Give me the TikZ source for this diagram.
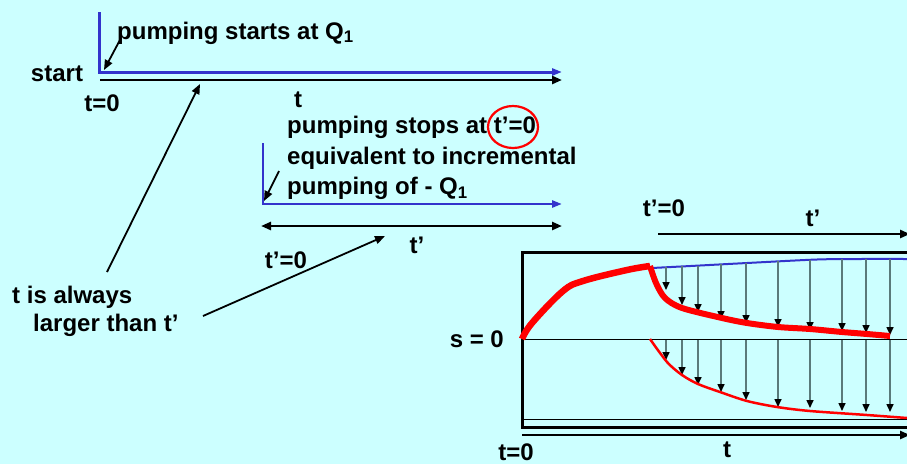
\documentclass[tikz,border=0pt]{standalone}
\usepackage{fontspec}
\setmainfont{Liberation Sans}
\usetikzlibrary{arrows.meta,positioning}
\definecolor{bgcyan}{RGB}{204,255,255}
\definecolor{axisblue}{RGB}{51,51,204}
\definecolor{dropgray}{RGB}{90,122,122}

\begin{document}
\begin{tikzpicture}[x=1pt,y=-1pt,
  lbl/.style={font=\fontsize{24}{30.5}\selectfont\bfseries, inner sep=0pt},
  axis/.style={line width=2.5pt, -{Triangle[length=10pt,width=8pt]}},
  blueaxis/.style={axisblue, line width=3pt, -{Triangle[length=10pt,width=7pt]}},
  pointer/.style={line width=1.8pt, -{Triangle[length=10pt,width=8pt]}},
  drop/.style={dropgray, line width=1.5pt, -{Triangle[length=8pt,width=7pt,color=black]}}]
  \fill[bgcyan] (0,0) rectangle (907,464);
  \useasboundingbox (0,0) rectangle (907,464);

  % pumping starts
  \coordinate (c1) at (99,72);
  \draw[blueaxis] (99,12) -- (c1) -- (562,72);
  \draw[axis] (100,80) -- (562,80);
  \node[lbl] (start) at (57,74) {start};
  \node[lbl] (t0) at (102,103) {t=0};
  \node[lbl] (t) at (298,100) {t};
  \node[lbl, anchor=west] (qstart) at (117,33) {pumping starts at Q\textsubscript{1}};
  \coordinate (qtail) at (121,38);
  \coordinate (qhead) at (104,70);
  \draw[pointer] (qtail) -- (qhead);

  % pumping stops
  \coordinate (c2) at (263,204);
  \draw[blueaxis, line width=2.5pt] (263,143) -- (c2) -- (562,204);
  \draw[axis, {Triangle[length=10pt,width=8pt]}-{Triangle[length=10pt,width=8pt]}]
    (261,226) -- (562,226);
  \node[lbl, anchor=west, align=left] (qstop) at (287,158)
    {pumping stops at t’=0\\equivalent to incremental\\pumping of - Q\textsubscript{1}};
  \draw[red, line width=2.2pt] (513,127) ellipse [x radius=25, y radius=21];
  \coordinate (stail) at (279,171);
  \coordinate (shead) at (264,201);
  \draw[pointer] (stail) -- (shead);
  \node[lbl] (tp0) at (286,260) {t’=0};
  \node[lbl] (tp) at (417,245) {t’};

  % t is always larger than t'
  \node[lbl, anchor=west, align=left, font=\fontsize{24}{28}\selectfont\bfseries]
    (always) at (12,311) {t is always\\\hspace*{21pt}larger than t’};
  \coordinate (atail) at (107,272);
  \coordinate (ahead) at (200,84);
  \coordinate (btail) at (203,316);
  \coordinate (bhead) at (385,236);
  \draw[pointer] (atail) -- (ahead);
  \draw[pointer] (btail) -- (bhead);

  % drawdown and recovery
  \draw[line width=3pt] (912,252) -- (522,252) -- (522,427) -- (912,427);
  \draw[line width=0.8pt] (522,339) -- (907,339);
  \draw[line width=0.8pt] (522,419) -- (907,419);
  \node[lbl, anchor=east] (s0) at (504,339) {s = 0};
  \draw[axis] (522,435) -- (910,435);
  \node[lbl] (tb) at (727,450) {t};
  \node[lbl] (tb0) at (516,452) {t=0};
  \draw[axis] (658,234) -- (910,234);
  \node[lbl] (tq0) at (664,208) {t’=0};
  \node[lbl] (tq) at (813,218) {t’};

  \draw[axisblue, line width=2pt] plot[smooth] coordinates
    {(652,268) (700,265.5) (747,263) (817,259.5) (860,259) (907,259)};
  \foreach \x/\a/\b in {666/267/290, 682/266/305, 698/265.5/312, 721/264/319,
      746/263/323, 778/261/327, 810/260/330, 842/259/331, 866/259/333, 890/259/335}
    \draw[drop] (\x,\a) -- (\x,\b);
  \foreach \x/\b in {666/360, 682/375, 698/385, 721/392, 746/400,
      778/407, 810/408, 842/411, 866/412, 890/412}
    \draw[drop] (\x,340) -- (\x,\b);
  \draw[red, line width=6.5pt] plot[smooth, tension=0.6] coordinates
    {(522,339) (532,323) (563,291) (583,281) (627,270) (650,266)};
  \draw[red, line width=6pt, line join=round] plot[smooth, tension=0.5] coordinates
    {(650,266) (656,283) (665,298) (682,308) (722,318) (747,323) (778,327)
     (810,329) (842,332) (867,334) (890,336)};
  \draw[red, line width=2.5pt] plot[smooth] coordinates
    {(650,339) (667,362) (682,375) (698,384) (720,392) (747,401) (777,407)
     (810,411) (867,415) (907,418)};
\end{tikzpicture}
\end{document}
